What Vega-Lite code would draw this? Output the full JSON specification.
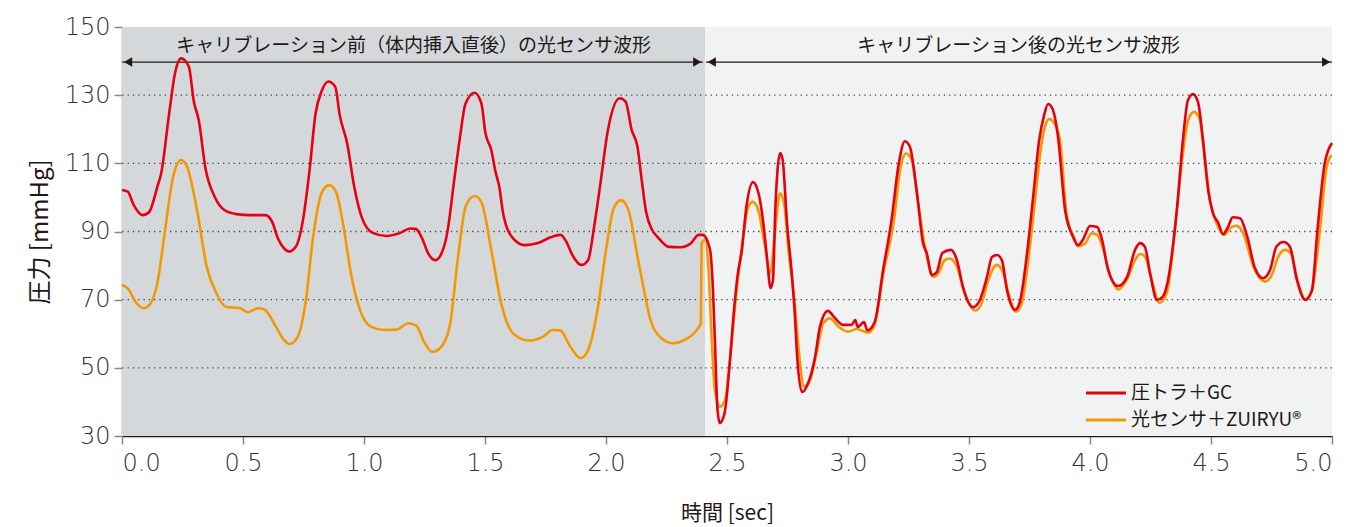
{
  "$schema": "https://vega.github.io/schema/vega-lite/v6.json",
  "width": 1210,
  "height": 409,
  "autosize": {"type": "none"},
  "padding": {"left": 122, "top": 27, "right": 22, "bottom": 91},
  "background": "white",
  "config": {"view": {"stroke": null}, "font": "Noto Sans CJK JP"},
  "datasets": {
    "regions": [
      {"x0": 0, "x1": 2.41, "y0": 30, "y1": 150, "region": "before"},
      {"x0": 2.41, "x1": 5.0, "y0": 30, "y1": 150, "region": "after"}
    ],
    "grid": [{"g": 50}, {"g": 70}, {"g": 90}, {"g": 110}, {"g": 130}],
    "arrows": [
      {"a0": 0, "a1": 2.4, "ay": 139.7},
      {"a0": 2.413, "a1": 5.0, "ay": 139.7}
    ],
    "heads": [
      {"hx": 0.025, "hy": 139.7, "dir": "left"},
      {"hx": 2.377, "hy": 139.7, "dir": "right"},
      {"hx": 2.437, "hy": 139.7, "dir": "left"},
      {"hx": 4.976, "hy": 139.7, "dir": "right"}
    ],
    "labels": [
      {"lx": 1.205, "ly": 144.4, "txt": "キャリブレーション前（体内挿入直後）の光センサ波形"},
      {"lx": 3.705, "ly": 144.4, "txt": "キャリブレーション後の光センサ波形"}
    ],
    "red": [
      [0,102.2],[0.024,101.7],[0.048,97.8],[0.086,94.8],[0.113,95.8],[0.146,103.1],[0.162,107.1],[0.195,124.7],[0.219,136.4],[0.244,140.8],[0.276,138.4],[0.297,128.1],[0.317,122.7],[0.345,108.5],[0.383,100.2],[0.423,96.3],[0.473,95.1],[0.53,94.8],[0.592,94.8],[0.62,92.9],[0.644,88],[0.669,85.1],[0.69,84.1],[0.718,85.5],[0.75,94.3],[0.775,108],[0.8,124.7],[0.824,131],[0.853,134],[0.881,132.5],[0.9,124],[0.93,116],[0.96,103],[0.99,94.3],[1.036,89.6],[1.093,88.7],[1.15,89.6],[1.191,90.9],[1.216,90.7],[1.24,88],[1.265,83.6],[1.294,81.6],[1.317,83.1],[1.346,90.4],[1.371,104.1],[1.395,116.8],[1.42,127.6],[1.457,130.7],[1.485,127.6],[1.502,118.8],[1.526,113.9],[1.542,108],[1.559,103.1],[1.575,95.3],[1.616,88],[1.665,86],[1.722,86.7],[1.771,88.3],[1.812,89],[1.836,87],[1.861,83.1],[1.898,80.2],[1.926,81.6],[1.951,91.4],[1.975,103.1],[2.008,119.8],[2.057,129.1],[2.081,128.1],[2.106,119.8],[2.13,114.9],[2.146,106],[2.165,96],[2.19,90.5],[2.212,88.5],[2.26,85.5],[2.31,85.4],[2.35,86.5],[2.383,89],[2.4,89],[2.43,84.6],[2.44,75.8],[2.45,58],[2.46,38.5],[2.47,33.8],[2.49,36.7],[2.51,50.2],[2.53,67.8],[2.545,77.8],[2.56,83.7],[2.58,97.2],[2.607,104.5],[2.63,101.3],[2.65,92.5],[2.665,82.5],[2.68,73.4],[2.69,75.8],[2.7,97.2],[2.72,113],[2.73,111],[2.748,92.5],[2.77,75.8],[2.78,66],[2.79,53.2],[2.81,42.9],[2.835,45.5],[2.864,53.2],[2.884,62],[2.917,66.7],[2.946,64.6],[2.98,62.6],[3.015,62.6],[3.03,64],[3.04,62],[3.066,63.4],[3.08,61],[3.11,63.4],[3.145,78.7],[3.18,93.4],[3.21,110],[3.235,116.5],[3.256,114.8],[3.285,101.3],[3.31,86.6],[3.325,83.7],[3.347,77.2],[3.367,78.1],[3.39,83.7],[3.425,84.6],[3.45,81.6],[3.475,73.7],[3.517,67.8],[3.545,69.9],[3.574,76.6],[3.595,82.5],[3.616,83.1],[3.636,81.6],[3.657,72.8],[3.69,67],[3.71,69.3],[3.74,83.7],[3.765,100.1],[3.79,116.8],[3.81,124],[3.827,127.4],[3.845,126],[3.868,117.7],[3.897,96.3],[3.93,88.4],[3.95,86],[3.97,87.5],[4.0,91.6],[4.03,91.3],[4.05,87.5],[4.075,78.7],[4.116,74],[4.153,76.6],[4.186,84.6],[4.207,86.6],[4.227,85.5],[4.248,77.8],[4.277,69.9],[4.3,70.8],[4.32,74.9],[4.36,97.2],[4.385,117.7],[4.405,128.6],[4.426,130.3],[4.446,128],[4.467,116.8],[4.488,102.2],[4.508,95.4],[4.53,92.5],[4.55,89.2],[4.57,91.3],[4.59,94.2],[4.62,93.9],[4.65,88.4],[4.68,79.6],[4.715,76.3],[4.744,78.7],[4.77,85.5],[4.8,86.9],[4.826,85.5],[4.855,75.8],[4.89,69.9],[4.917,72.8],[4.94,90.4],[4.97,110],[5.0,116]
    ],
    "orange": [
      [0,74.3],[0.024,73.3],[0.056,69.4],[0.089,67.5],[0.113,68.4],[0.146,74.8],[0.178,90.4],[0.211,106],[0.244,111],[0.269,109],[0.31,96.3],[0.35,79.7],[0.39,71.9],[0.43,67.9],[0.489,67.5],[0.52,66.3],[0.562,67.5],[0.587,67.2],[0.636,62.1],[0.669,58.2],[0.693,57],[0.726,59.1],[0.758,68.9],[0.79,88.5],[0.824,101.2],[0.856,103.6],[0.884,101.7],[0.913,92.4],[0.946,77.7],[0.979,67.9],[1.028,62.1],[1.085,61.1],[1.134,61.2],[1.183,63.1],[1.216,62.4],[1.248,57.7],[1.281,54.7],[1.313,55.7],[1.354,62.1],[1.387,81.6],[1.42,97.3],[1.457,100.4],[1.485,98.6],[1.526,84.6],[1.567,68.9],[1.616,60.1],[1.681,58],[1.738,59.1],[1.78,61.1],[1.81,61],[1.853,56.2],[1.894,52.8],[1.926,55.2],[1.967,67.9],[2.0,84.6],[2.032,96.8],[2.062,99.2],[2.09,96.8],[2.138,79.7],[2.188,63.1],[2.229,58.7],[2.277,57.2],[2.326,58.2],[2.375,61.1],[2.392,63.1],[2.395,86.5],[2.41,87.5],[2.423,79.7],[2.437,58.2],[2.45,43.5],[2.471,38.6],[2.492,40.6],[2.512,52.3],[2.54,72.8],[2.567,88.5],[2.588,97.3],[2.606,98.7],[2.629,96.3],[2.657,85.5],[2.678,77.7],[2.698,89.5],[2.719,101.2],[2.736,98.3],[2.754,84.6],[2.781,67.9],[2.799,53.3],[2.818,44.5],[2.843,46.4],[2.87,54.3],[2.898,63.1],[2.926,64.5],[2.96,62.1],[3.0,60.6],[3.036,61.4],[3.084,60.3],[3.11,62.6],[3.146,77.7],[3.19,93.4],[3.215,108],[3.24,112.9],[3.263,111],[3.29,98.3],[3.318,85.5],[3.353,76.7],[3.373,77.7],[3.4,81.6],[3.42,82.1],[3.45,79.7],[3.483,71.9],[3.525,66.8],[3.552,68.9],[3.58,75.8],[3.615,80.2],[3.642,77.7],[3.663,71.9],[3.694,66.5],[3.718,68.9],[3.745,81.6],[3.773,99.2],[3.8,115.9],[3.815,121],[3.831,123],[3.85,122],[3.876,116.8],[3.903,95.3],[3.938,87.5],[3.95,85.7],[3.98,86.5],[4.007,89.5],[4.03,89],[4.055,84.6],[4.083,77.2],[4.117,73],[4.152,75.8],[4.186,81.6],[4.207,83.4],[4.227,82.6],[4.255,75.8],[4.287,69.1],[4.317,71.9],[4.351,90.4],[4.379,110],[4.406,122.7],[4.43,125.1],[4.452,123.2],[4.475,111],[4.496,99.2],[4.523,92.4],[4.554,89],[4.578,90.9],[4.606,91.7],[4.633,89.5],[4.675,79.7],[4.723,75.3],[4.751,77.2],[4.778,82.6],[4.806,84.6],[4.83,83.6],[4.857,75.8],[4.888,70.1],[4.916,72.3],[4.95,90.4],[4.978,109],[4.998,112.4]
    ]
  },
  "layer": [
    {
      "data": {"name": "regions"},
      "mark": {"type": "rect"},
      "encoding": {
        "x": {"field": "x0", "type": "quantitative", "scale": {"domain": [0, 5], "nice": false, "zero": false},
          "axis": {"values": [0, 0.5, 1, 1.5, 2, 2.5, 3, 3.5, 4, 4.5, 5], "format": ".1f", "title": "時間 [sec]",
            "grid": false, "domainColor": "#231815", "domainWidth": 1.5, "tickColor": "#888888", "tickSize": 8, "tickWidth": 1.5,
            "labelFont": "DejaVu Sans", "labelFontWeight": 200, "labelFontSize": 24, "labelColor": "#333333", "labelPadding": 7,
            "titleFont": "Noto Sans CJK JP", "titleFontSize": 21, "titleFontWeight": "normal", "titleColor": "#231815", "titleY": 77, "titleBaseline": "middle"}},
        "x2": {"field": "x1"},
        "y": {"field": "y0", "type": "quantitative", "scale": {"domain": [30, 150], "nice": false, "zero": false},
          "axis": {"values": [30, 50, 70, 90, 110, 130, 150], "title": "圧力 [mmHg]", "grid": false,
            "domainColor": "#888888", "domainWidth": 1.5, "tickColor": "#888888", "tickSize": 8, "tickWidth": 1.5,
            "labelFont": "DejaVu Sans", "labelFontWeight": 200, "labelFontSize": 24, "labelColor": "#333333", "labelPadding": 4,
            "titleFont": "Noto Sans CJK JP", "titleFontSize": 24, "titleFontWeight": "normal", "titleColor": "#231815", "titleX": -82, "titleBaseline": "middle"}},
        "y2": {"field": "y1"},
        "fill": {"field": "region", "type": "nominal", "scale": {"domain": ["before", "after"], "range": ["#d5d8db", "#f1f2f2"]}, "legend": null}
      }
    },
    {
      "data": {"name": "grid"},
      "mark": {"type": "rule", "color": "#444444", "strokeWidth": 1.3, "strokeDash": [1.3, 4]},
      "encoding": {"y": {"field": "g", "type": "quantitative"}}
    },
    {
      "data": {"name": "arrows"},
      "mark": {"type": "rule", "color": "#231815", "strokeWidth": 1.3},
      "encoding": {
        "x": {"field": "a0", "type": "quantitative"},
        "x2": {"field": "a1"},
        "y": {"field": "ay", "type": "quantitative"}
      }
    },
    {
      "data": {"name": "heads"},
      "mark": {"type": "point", "filled": true, "color": "#231815", "opacity": 1, "size": 90},
      "encoding": {
        "x": {"field": "hx", "type": "quantitative"},
        "y": {"field": "hy", "type": "quantitative"},
        "shape": {"field": "dir", "type": "nominal", "scale": {"domain": ["left", "right"], "range": ["triangle-left", "triangle-right"]}, "legend": null}
      }
    },
    {
      "data": {"name": "labels"},
      "mark": {"type": "text", "font": "Noto Sans CJK JP", "fontSize": 19, "color": "#231815", "align": "center", "baseline": "middle"},
      "encoding": {
        "x": {"field": "lx", "type": "quantitative"},
        "y": {"field": "ly", "type": "quantitative"},
        "text": {"field": "txt"}
      }
    },
    {
      "data": {"name": "orange"},
      "transform": [{"calculate": "datum[0]", "as": "t"}, {"calculate": "datum[1]", "as": "v"}, {"calculate": "'光センサ＋ZUIRYU®'", "as": "s"}],
      "mark": {"type": "line", "strokeWidth": 2.6, "interpolate": "monotone"},
      "encoding": {
        "x": {"field": "t", "type": "quantitative"},
        "y": {"field": "v", "type": "quantitative"},
        "color": {"field": "s", "type": "nominal",
          "scale": {"domain": ["圧トラ＋GC", "光センサ＋ZUIRYU®"], "range": ["#e60012", "#f39800"]},
          "legend": {"orient": "none", "legendX": 970, "legendY": 352, "title": null, "symbolType": "M-1.6,0H1.6", "symbolSize": 625, "symbolStrokeWidth": 3,
            "labelFont": "Noto Sans CJK JP", "labelFontSize": 19, "labelColor": "#231815", "rowPadding": 3, "labelOffset": 11, "labelLimit": 400}}
      }
    },
    {
      "data": {"name": "red"},
      "transform": [{"calculate": "datum[0]", "as": "t"}, {"calculate": "datum[1]", "as": "v"}, {"calculate": "'圧トラ＋GC'", "as": "s"}],
      "mark": {"type": "line", "strokeWidth": 2.6, "interpolate": "monotone"},
      "encoding": {
        "x": {"field": "t", "type": "quantitative"},
        "y": {"field": "v", "type": "quantitative"},
        "color": {"field": "s", "type": "nominal"}
      }
    }
  ]
}
